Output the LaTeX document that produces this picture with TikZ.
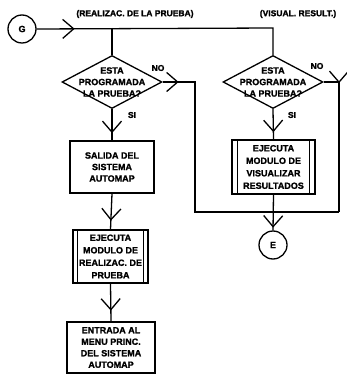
\documentclass[tikz,border=0pt]{standalone}
\usepackage{fontspec}
\setmainfont{Liberation Sans}[BoldFeatures={FakeBold=1.6}]
\usetikzlibrary{shapes.geometric,arrows.meta,decorations.markings}

\tikzset{
  flow/.style={line width=1.3pt, line join=miter},
  barbat/.style={postaction={decorate},
    decoration={markings, mark=at position #1 with
      {\arrow[line width=1.3pt]{Straight Barb[length=11pt,width=19pt]}}}},
  txt/.style={font=\bfseries\fontsize{9}{11.5}\selectfont, align=center, inner sep=0pt},
  lbl/.style={font=\bfseries\fontsize{8.5}{10}\selectfont, inner sep=0pt},
  decision/.style={diamond, draw, line width=1.3pt, inner sep=0pt,
    minimum width=100pt, minimum height=53pt},
  procbox/.style={rectangle, draw, line width=1.3pt, inner sep=0pt},
  connector/.style={circle, draw, line width=1.3pt, minimum size=28pt, inner sep=0pt,
    font=\bfseries\fontsize{9}{10}\selectfont}
}

\begin{document}
\begin{tikzpicture}[x=1pt, y=-1pt]
  \useasboundingbox (0,0) rectangle (346,374);

  % entry connector and the two branch labels
  \node[connector] (G) at (22,29) {G};
  \node[lbl] (lblA) at (135,14) {(REALIZAC. DE LA PRUEBA)};
  \node[lbl] (lblB) at (298,14) {(VISUAL. RESULT.)};

  % decisions
  \node[decision] (d1) at (112,82) {};
  \node[txt] (d1t) at (112,82) {ESTA\\PROGRAMADA\\LA PRUEBA?};
  \node[decision] (d2) at (273,82) {};
  \node[txt] (d2t) at (273,82) {ESTA\\PROGRAMADA\\LA PRUEBA?};

  \node[lbl] (no1) at (158,68) {NO};
  \node[lbl] (si1) at (132,115) {SI};
  \node[lbl] (no2) at (317,66) {NO};
  \node[lbl] (si2) at (292,115) {SI};

  % left column
  \node[procbox, txt, minimum width=84pt, minimum height=52pt] (b1) at (112,167)
    {SALIDA DEL\\SISTEMA\\AUTOMAP};
  \node[procbox, txt, minimum width=75pt, minimum height=53pt, font=\bfseries\fontsize{9}{12.5}\selectfont]
    (b2) at (110.5,256.5) {EJECUTA\\MODULO DE\\REALIZAC. DE\\PRUEBA};
  \draw[line width=1.3pt] ([xshift=5pt]b2.north west) -- ([xshift=5pt]b2.south west);
  \draw[line width=1.3pt] ([xshift=-5pt]b2.north east) -- ([xshift=-5pt]b2.south east);
  \node[procbox, txt, minimum width=88pt, minimum height=51pt] (b3) at (111,347.5)
    {ENTRADA AL\\MENU PRINC.\\DEL SISTEMA\\AUTOMAP};

  % right column
  \node[procbox, txt, minimum width=83pt, minimum height=54pt, font=\bfseries\fontsize{9}{12.5}\selectfont]
    (b4) at (273.5,167) {EJECUTA\\MODULO DE\\VISUALIZAR\\RESULTADOS};
  \draw[line width=1.3pt] ([xshift=6pt]b4.north west) -- ([xshift=6pt]b4.south west);
  \draw[line width=1.3pt] ([xshift=-6pt]b4.north east) -- ([xshift=-6pt]b4.south east);
  \node[connector] (E) at (273,245) {E};

  % routing points
  \coordinate (jL) at (112,28);
  \coordinate (jR) at (273,28);
  \coordinate (n1) at (195,82);
  \coordinate (n2) at (339,82);
  \coordinate (r1) at (195,212);
  \coordinate (r2) at (339,212);

  % connectors
  \draw[flow, barbat=38pt] (G.east) -- (jR) -- (d2.north);
  \draw[flow] (jL) -- (d1.north);
  \draw[flow, barbat=16pt] (d1.east) -- (n1) -- (r1) -- (r2);
  \draw[flow, barbat=16.5pt] (d2.east) -- (n2) -- (r2);
  \draw[flow, barbat=24pt] (d1.south) -- (b1.north);
  \draw[flow, barbat=27pt] (b1.south) -- (b2.north);
  \draw[flow, barbat=27pt] (b2.south) -- (b3.north);
  \draw[flow, barbat=23pt] (d2.south) -- (b4.north);
  \draw[flow, barbat=33pt] (b4.south) -- (E.north);
\end{tikzpicture}
\end{document}
